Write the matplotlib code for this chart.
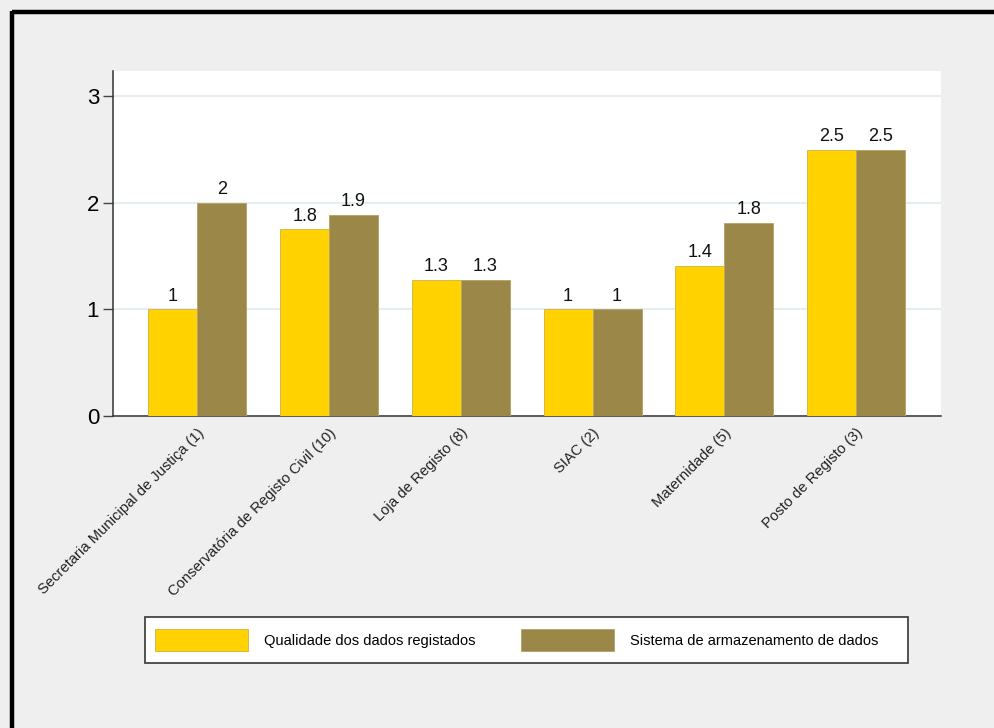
import matplotlib
matplotlib.use("Agg")
import matplotlib.pyplot as plt
from matplotlib.lines import Line2D
from matplotlib.patches import Rectangle
import numpy as np

plt.rcParams['font.family'] = ['Liberation Sans', 'DejaVu Sans']

categories = [
    "Secretaria Municipal de Justiça (1)",
    "Conservatória de Registo Civil (10)",
    "Loja de Registo (8)",
    "SIAC (2)",
    "Maternidade (5)",
    "Posto de Registo (3)",
]
qualidade = [1.0, 1.75, 1.28, 1.0, 1.41, 2.5]
sistema = [2.0, 1.89, 1.28, 1.0, 1.81, 2.5]
series_names = ["Qualidade dos dados registados", "Sistema de armazenamento de dados"]
yticks = [0, 1, 2, 3]

bg = "#efefef"
c_yellow = "#ffd200"
c_brown = "#9b8747"


def fmt(v):
    s = f"{v:.1f}"
    return s[:-2] if s.endswith(".0") else s


fig = plt.figure(figsize=(9.95, 7.28), dpi=100, facecolor=bg)
ax = fig.add_axes([0.1136, 0.4286, 0.8321, 0.4743])
ax.set_facecolor("white")

x = np.arange(len(categories))
w = 0.372
b1 = ax.bar(x - w / 2, qualidade, w, color=c_yellow, edgecolor="#d9b84a", linewidth=0.7, zorder=3)
b2 = ax.bar(x + w / 2, sistema, w, color=c_brown, edgecolor="#b8a66a", linewidth=0.7, zorder=3)

for bars, vals in ((b1, qualidade), (b2, sistema)):
    for rect, v in zip(bars, vals):
        ax.annotate(fmt(v), (rect.get_x() + rect.get_width() / 2, v),
                    xytext=(0, 3.5), textcoords="offset points",
                    ha="center", va="bottom", fontsize=13, color="#111111")

ax.set_xlim(-0.64, len(categories) - 1 + 0.645)
ax.set_ylim(0, 3.24)
ax.set_yticks(yticks)
ax.set_yticklabels([str(t) for t in yticks], fontsize=16)
ax.tick_params(axis="y", length=7, width=1, color="#444444", pad=3)
ax.set_xticks(x)
ax.set_xticklabels(categories, rotation=45, ha="right", rotation_mode="anchor",
                   fontsize=10.6, color="#222222")
ax.tick_params(axis="x", length=0, pad=7)

ax.yaxis.grid(True, color="#e4edf1", linewidth=1.5, zorder=0)
ax.set_axisbelow(True)
for s in ("top", "right"):
    ax.spines[s].set_visible(False)
for s in ("left", "bottom"):
    ax.spines[s].set_color("#333333")
    ax.spines[s].set_linewidth(1.1)

# legend box, drawn as a figure-level rectangle behind the legend entries
fig.add_artist(Rectangle((0.1457, 0.0893), 0.767, 0.0632, transform=fig.transFigure,
                         facecolor="white", edgecolor="#444444", linewidth=1.3, zorder=1))
leg = fig.legend([b1, b2], series_names, ncol=2,
                 bbox_to_anchor=(0.144, 0.1209), loc="center left",
                 fontsize=10.5, handlelength=6.4, handleheight=1.9,
                 handletextpad=1.1, columnspacing=3.1, borderpad=0.8,
                 frameon=False, borderaxespad=0)
leg.set_zorder(2)

# frame lines along the top and left of the figure
fig.add_artist(Line2D([0.0125, 1.0], [0.9835, 0.9835], color="black", linewidth=3.2,
                      solid_capstyle="butt", transform=fig.transFigure))
fig.add_artist(Line2D([0.0125, 0.0125], [0.0, 0.9855], color="black", linewidth=3.2,
                      solid_capstyle="butt", transform=fig.transFigure))

fig.savefig("out.png", dpi=100, facecolor=bg)
